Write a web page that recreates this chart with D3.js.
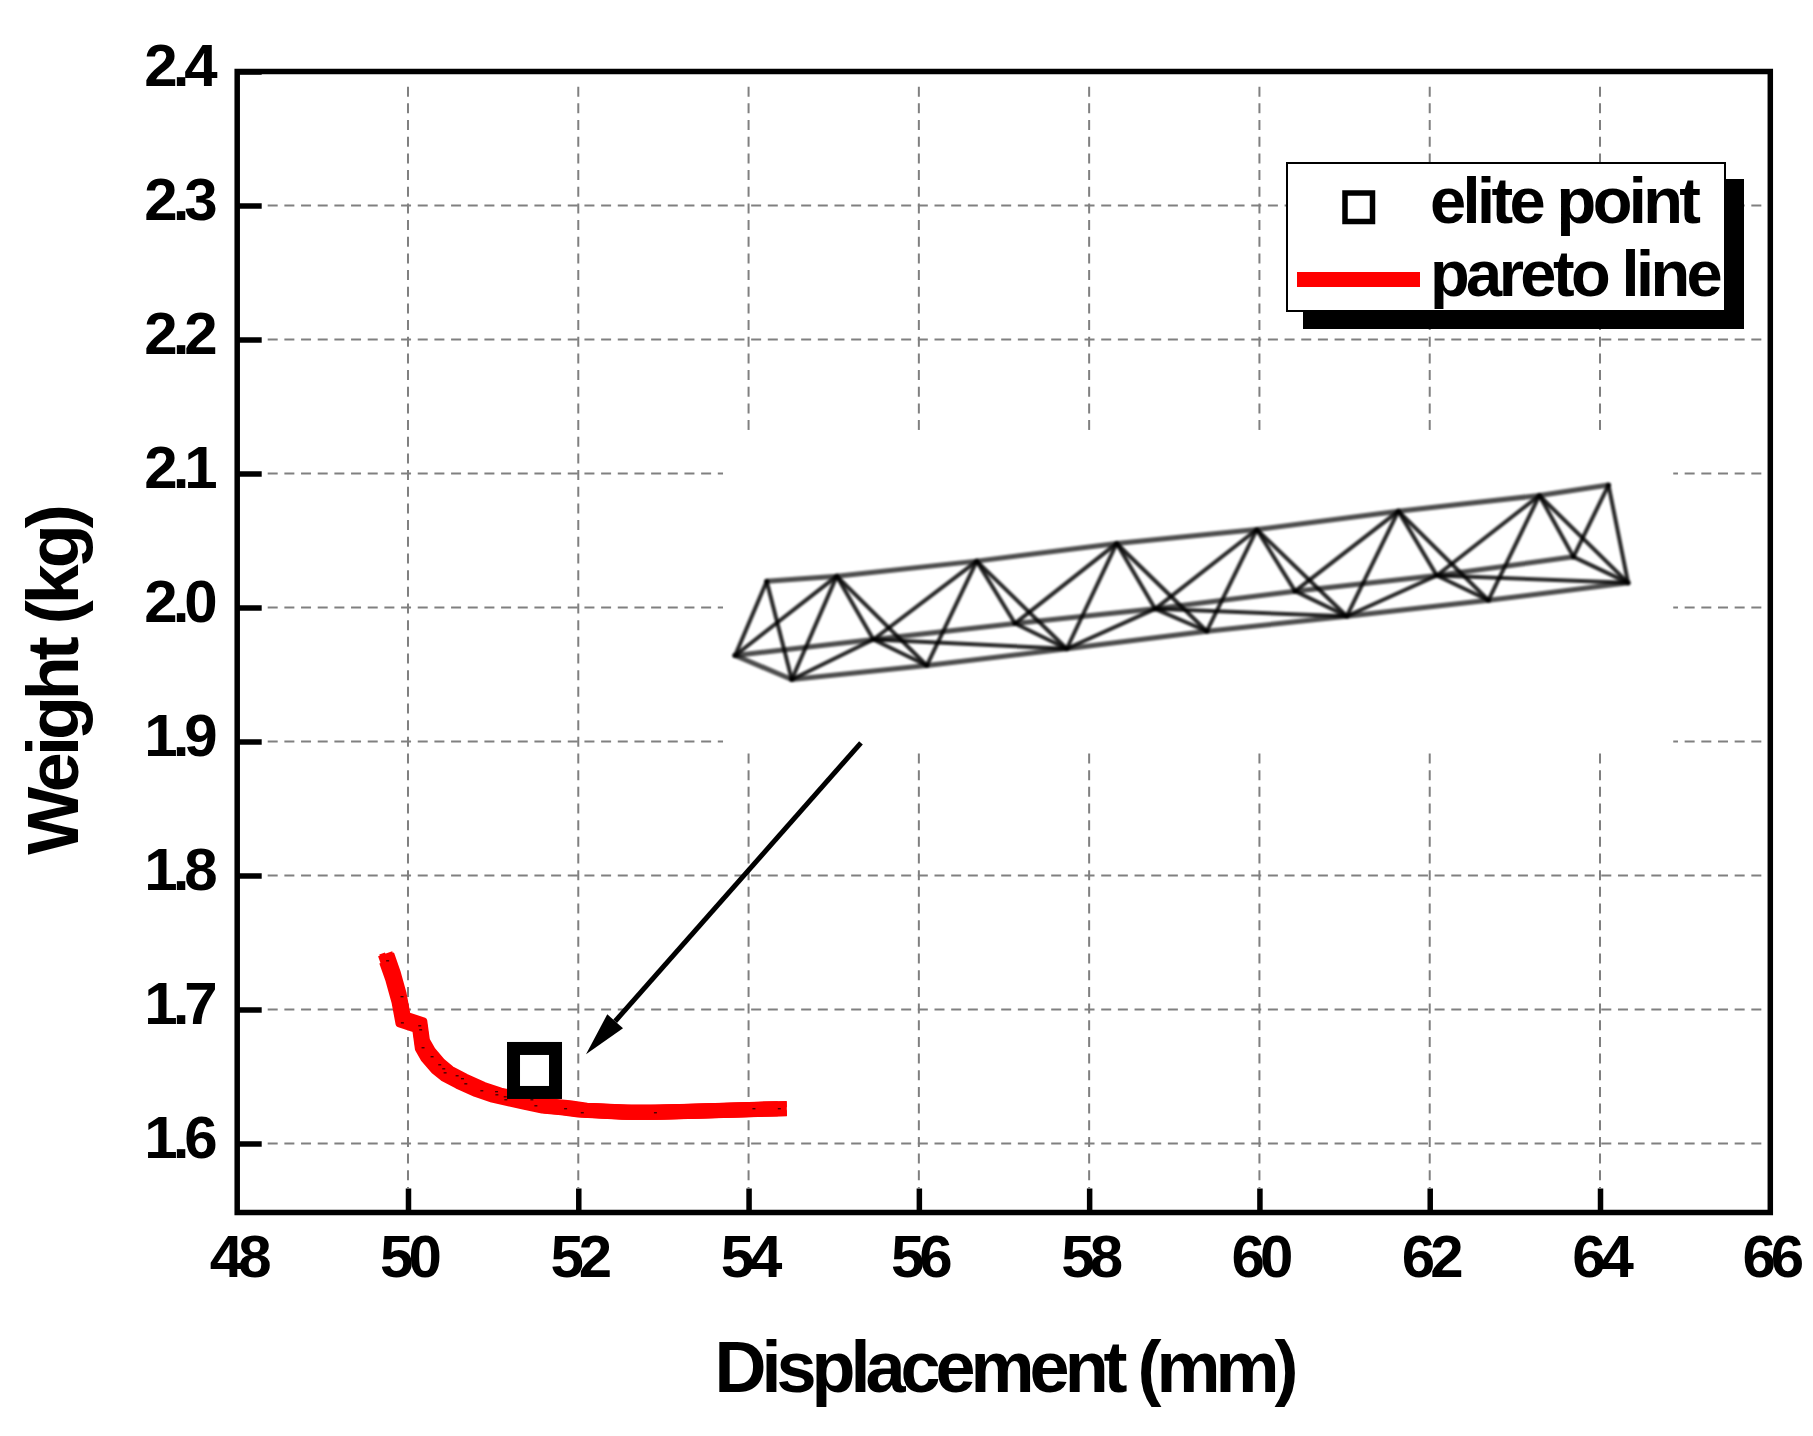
<!DOCTYPE html>
<html>
<head>
<meta charset="utf-8">
<script src="https://cdn.jsdelivr.net/npm/d3@7"></script>
<style>
    html, body { margin: 0; padding: 0; background: #fff; }
    svg { display: block; }
    text { font-family: "Liberation Sans", Arial, sans-serif; font-weight: bold; fill: #000; }
</style>
</head>
<body>
<svg id="chart" width="1813" height="1436"></svg>
<script>
const xTicks = [48, 50, 52, 54, 56, 58, 60, 62, 64, 66];
const yTicks = [1.6, 1.7, 1.8, 1.9, 2.0, 2.1, 2.2, 2.3, 2.4];
const xGrid = [50, 52, 54, 56, 58, 60, 62, 64];
const yGrid = [1.6, 1.7, 1.8, 1.9, 2.0, 2.1, 2.2, 2.3];

const xTitle = "Displacement (mm)";
const yTitle = "Weight (kg)";
const legendLabels = ["elite point", "pareto line"];

const paretoX = [49.761, 49.824, 49.895, 49.942, 50.138, 50.169, 50.236, 50.353, 50.459,
    50.628, 50.844, 51.040, 51.393, 51.628, 51.851, 52.051, 52.569, 52.906, 53.353,
    54.059, 54.361];
const paretoY = [1.7363, 1.7249, 1.7087, 1.6925, 1.6883, 1.6739, 1.6664, 1.6577, 1.6522,
    1.6465, 1.6403, 1.6361, 1.6311, 1.6279, 1.6266, 1.6249, 1.6234, 1.6234, 1.6241,
    1.6254, 1.6259];

// tiny black marks left on the red line
const markX = [49.761, 49.930, 49.934, 50.138, 50.149, 50.177, 50.283, 50.373, 50.420,
    50.436, 50.577, 50.640, 50.679, 50.867, 51.040, 51.044, 51.142, 51.149, 51.455,
    51.502, 51.851, 52.047, 52.906, 54.063, 54.361];
const markY = [1.7363, 1.7095, 1.6900, 1.6878, 1.6848, 1.6714, 1.6647, 1.6587, 1.6557,
    1.6527, 1.6505, 1.6483, 1.6445, 1.6393, 1.6386, 1.6363, 1.6348, 1.6326, 1.6326,
    1.6281, 1.6259, 1.6229, 1.6229, 1.6259, 1.6259];

const elitePoint = [51.486, 1.6545];
const arrowFrom = [55.32, 1.899];
const arrowTo = [52.091, 1.6666];

const insetX = [53.70, 64.86];
const insetY = [1.893, 2.1325];
const topChord = [[54.213, 2.0196], [55.036, 2.0234], [56.680, 2.0346], [58.324, 2.0478],
    [59.969, 2.0582], [61.632, 2.0719], [63.288, 2.0836], [64.100, 2.0914]];
const lowChord = [[53.842, 1.9642], [54.508, 1.9463], [56.093, 1.9567], [57.737, 1.9692],
    [59.382, 1.9823], [61.026, 1.9935], [62.689, 2.0054], [64.330, 2.0184]];
const midChord = [[53.842, 1.9642], [55.466, 1.9761], [57.130, 1.9881], [58.775, 1.9990],
    [60.419, 2.0122], [62.083, 2.0239], [63.688, 2.0378]];
// web members as [top node, other node]; "L" = low chord, "M" = mid chord
const webMembers = [
    [0, "L0"], [0, "L1"],
    [1, "L0"], [1, "L1"], [1, "M1"], [1, "L2"],
    [2, "M1"], [2, "L2"], [2, "M2"], [2, "L3"],
    [3, "M2"], [3, "L3"], [3, "M3"], [3, "L4"],
    [4, "M3"], [4, "L4"], [4, "M4"], [4, "L5"],
    [5, "M4"], [5, "L5"], [5, "M5"], [5, "L6"],
    [6, "M5"], [6, "L6"], [6, "M6"], [6, "L7"],
    [7, "M6"], [7, "L7"]
];
const lowerMembers = [
    ["M1", "L1"], ["M1", "L2"], ["M1", "L3"], ["M2", "L3"], ["M3", "L3"], ["M3", "L4"],
    ["M3", "L5"], ["M4", "L5"], ["M5", "L5"], ["M5", "L6"], ["M5", "L7"], ["M6", "L7"]
];

const svg = d3.select("#chart");
const x = d3.scaleLinear().domain([48, 66]).range([237.7, 1770.3]);
const y = d3.scaleLinear().domain([1.5485, 2.4]).range([1212.5, 71.5]);

// Grid
const gridColor = "#808080";
svg.append("g").selectAll("line").data(yGrid).join("line")
    .attr("x1", x(48) + 30)
    .attr("x2", x(66) - 8)
    .attr("y1", d => y(d))
    .attr("y2", d => y(d))
    .attr("stroke", gridColor)
    .attr("stroke-width", 2)
    .attr("stroke-dasharray", "10 6.67");
svg.append("g").selectAll("line").data(xGrid).join("line")
    .attr("x1", d => x(d))
    .attr("x2", d => x(d))
    .attr("y1", 86.7)
    .attr("y2", 1188)
    .attr("stroke", gridColor)
    .attr("stroke-width", 2)
    .attr("stroke-dasharray", "10 6.67");

// Inset truss sits on a white patch that hides the grid
svg.append("rect")
    .attr("x", x(insetX[0]))
    .attr("y", y(insetY[1]))
    .attr("width", x(insetX[1]) - x(insetX[0]))
    .attr("height", y(insetY[0]) - y(insetY[1]))
    .attr("fill", "#fff");

const defs = svg.append("defs");
defs.append("filter").attr("id", "soft")
    .attr("x", "-5%").attr("y", "-20%").attr("width", "110%").attr("height", "140%")
    .append("feGaussianBlur").attr("stdDeviation", 0.8);

const node = key => (key[0] === "L" ? lowChord : midChord)[+key.slice(1)];
const trussLine = d3.line().x(d => x(d[0])).y(d => y(d[1]));
const truss = svg.append("g")
    .attr("filter", "url(#soft)")
    .attr("fill", "none")
    .attr("stroke", "#000");
truss.selectAll(".chord").data([topChord, lowChord, midChord]).join("path")
    .attr("class", "chord")
    .attr("d", trussLine)
    .attr("stroke-width", 5)
    .attr("stroke-opacity", 0.7);
truss.selectAll(".web").data(webMembers).join("path")
    .attr("class", "web")
    .attr("d", d => trussLine([topChord[d[0]], node(d[1])]))
    .attr("stroke-width", 4)
    .attr("stroke-opacity", 0.85);
truss.selectAll(".lower").data(lowerMembers).join("path")
    .attr("class", "lower")
    .attr("d", d => trussLine([node(d[0]), node(d[1])]))
    .attr("stroke-width", 4)
    .attr("stroke-opacity", 0.85);
truss.selectAll("circle").data([...topChord, ...lowChord, ...midChord]).join("circle")
    .attr("cx", d => x(d[0]))
    .attr("cy", d => y(d[1]))
    .attr("r", 2.6)
    .attr("stroke", "none")
    .attr("fill", "#000");

// Pareto line: the original pen is square, so diagonals come out fatter
const pareto = d3.zip(paretoX, paretoY);
const penOffsets = [[0, 0, 15], [-4.5, -4.5, 6], [4.5, -4.5, 6], [-4.5, 4.5, 6], [4.5, 4.5, 6]];
const paretoLine = d3.line().x(d => x(d[0])).y(d => y(d[1]));
svg.append("g").selectAll("path").data(penOffsets).join("path")
    .attr("d", paretoLine(pareto))
    .attr("transform", d => `translate(${d[0]},${d[1]})`)
    .attr("fill", "none")
    .attr("stroke", "#ff0000")
    .attr("stroke-width", d => d[2])
    .attr("stroke-linecap", "square")
    .attr("stroke-linejoin", "round");
svg.append("g").selectAll("rect").data(d3.zip(markX, markY)).join("rect")
    .attr("x", d => x(d[0]) - 1.5)
    .attr("y", d => y(d[1]) - 0.5)
    .attr("width", 3)
    .attr("height", 1)
    .attr("fill", "#000");

// Elite point
svg.append("rect")
    .attr("x", x(elitePoint[0]) - 21)
    .attr("y", y(elitePoint[1]) - 22)
    .attr("width", 42)
    .attr("height", 44)
    .attr("fill", "none")
    .attr("stroke", "#000")
    .attr("stroke-width", 13);

// Arrow
const ax = x(arrowFrom[0]), ay = y(arrowFrom[1]);
const tx = x(arrowTo[0]), ty = y(arrowTo[1]);
const alen = Math.hypot(ax - tx, ay - ty);
const ux = (ax - tx) / alen, uy = (ay - ty) / alen;
const headLen = 44, headHalf = 10.5;
svg.append("line")
    .attr("x1", ax).attr("y1", ay)
    .attr("x2", tx + ux * headLen).attr("y2", ty + uy * headLen)
    .attr("stroke", "#000")
    .attr("stroke-width", 5);
svg.append("path")
    .attr("d", `M${tx},${ty}L${tx + ux * headLen - uy * headHalf},${ty + uy * headLen + ux * headHalf}`
        + `L${tx + ux * headLen + uy * headHalf},${ty + uy * headLen - ux * headHalf}Z`)
    .attr("fill", "#000");

// Axes
const xAxis = svg.append("g")
    .attr("transform", `translate(0,${y.range()[0]})`)
    .call(d3.axisBottom(x).tickValues(xTicks).tickSize(-24).tickPadding(0).tickFormat(d3.format("d")));
const yAxis = svg.append("g")
    .attr("transform", `translate(${x.range()[0]},0)`)
    .call(d3.axisLeft(y).tickValues(yTicks).tickSize(-24).tickPadding(0).tickFormat(d3.format(".1f")));
[xAxis, yAxis].forEach(g => {
    g.attr("font-family", null).attr("font-size", null);
    g.select(".domain").remove();
    g.selectAll(".tick line").attr("stroke", "#000").attr("stroke-width", 5.5);
});
xAxis.selectAll(".tick").filter(d => d === 48 || d === 66).select("line").remove();
xAxis.selectAll(".tick text")
    .attr("y", 64.5)
    .attr("dy", null)
    .attr("x", 0)
    .style("font-size", "60px")
    .style("letter-spacing", "-5px");
yAxis.selectAll(".tick text")
    .attr("x", -25)
    .attr("dy", "14px")
    .style("font-size", "60px")
    .style("letter-spacing", "-5px");

// Frame
svg.append("rect")
    .attr("x", x.range()[0] - 0.5)
    .attr("y", y.range()[1])
    .attr("width", x.range()[1] - x.range()[0] + 0.5)
    .attr("height", y.range()[0] - y.range()[1])
    .attr("fill", "none")
    .attr("stroke", "#000")
    .attr("stroke-width", 5.5);

// Axis titles
svg.append("text")
    .attr("x", 1004)
    .attr("y", 1392)
    .attr("text-anchor", "middle")
    .style("font-size", "72px")
    .style("letter-spacing", "-5px")
    .text(xTitle);
svg.append("text")
    .attr("transform", "translate(78,681.5) rotate(-90)")
    .attr("text-anchor", "middle")
    .style("font-size", "72px")
    .style("letter-spacing", "-4px")
    .text(yTitle);

// Legend
const legend = svg.append("g");
legend.append("rect")
    .attr("x", 1303).attr("y", 179).attr("width", 441).attr("height", 150)
    .attr("fill", "#000");
legend.append("rect")
    .attr("x", 1287).attr("y", 163).attr("width", 438).attr("height", 148)
    .attr("fill", "#fff")
    .attr("stroke", "#000")
    .attr("stroke-width", 2);
legend.append("rect")
    .attr("x", 1345).attr("y", 193).attr("width", 27.5).attr("height", 28.5)
    .attr("fill", "none")
    .attr("stroke", "#000")
    .attr("stroke-width", 5.5);
legend.append("rect")
    .attr("x", 1297).attr("y", 272).attr("width", 123).attr("height", 15)
    .attr("fill", "#ff0000");
legend.selectAll("text").data(legendLabels).join("text")
    .attr("x", 1430)
    .attr("y", (d, i) => i === 0 ? 223 : 296)
    .style("font-size", "65px")
    .style("letter-spacing", "-3.6px")
    .text(d => d);
</script>
</body>
</html>
